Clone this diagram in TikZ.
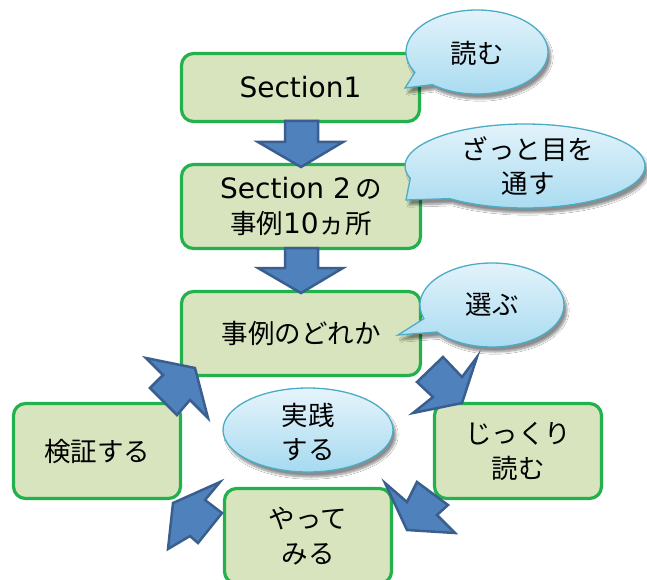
\documentclass[tikz,border=0pt]{standalone}
\usepackage{fontspec}
\setmainfont{Noto Sans CJK JP}
\newfontfamily\latinf{DejaVu Sans}
\usetikzlibrary{shadows.blur}
\definecolor{boxfill}{HTML}{D7E4BD}
\definecolor{boxline}{HTML}{22B14C}
\definecolor{arrfill}{HTML}{4F81BD}
\definecolor{arrline}{HTML}{3A5F8E}
\definecolor{calltop}{HTML}{E6F4FB}
\definecolor{callbot}{HTML}{A6DAF0}
\definecolor{callline}{HTML}{4BACC6}
\newcommand\latx[1]{{\latinf\fontsize{28}{35}\selectfont #1}}
\begin{document}
\begin{tikzpicture}[x=1pt,y=-1pt,
  stepbox/.style={draw=boxline, line width=3.2pt, fill=boxfill, rounded corners=12pt,
    inner sep=0pt, align=center, font=\fontsize{26.5}{35}\selectfont},
  blockarrow/.style={draw=arrline, fill=arrfill, line width=2.5pt},
  bubble/.style={draw=callline, line width=1.3pt, top color=calltop, bottom color=callbot,
    blur shadow={shadow xshift=3pt, shadow yshift=-5pt, shadow blur steps=8, shadow opacity=45}},
  btext/.style={align=center, font=\fontsize{26.5}{34}\selectfont, inner sep=0pt}]
\useasboundingbox (0,0) rectangle (647,580);
\clip (0,0) rectangle (647,580);
\fill[white] (0,0) rectangle (647,580);

% boxes
\node[stepbox, minimum width=238pt, minimum height=68pt] (s1) at (300.5,87.5) {\latx{Section1}};
\node[stepbox, minimum width=239pt, minimum height=84pt] (s2) at (301,206.5) {\latx{Section 2}\,の\\事例\latx{10}ヵ所};
\node[stepbox, minimum width=239pt, minimum height=84pt] (s3) at (301,333.5) {事例のどれか};
\node[stepbox, minimum width=167pt, minimum height=95pt] (s4) at (518,451) {じっくり\\読む};
\node[stepbox, minimum width=167pt, minimum height=95pt] (s5) at (308,536) {やって\\みる};
\node[stepbox, minimum width=167pt, minimum height=95pt] (s6) at (97,451) {検証する};

% straight down arrows
\draw[blockarrow] (285,121) -- (318,121) -- (318,142) -- (343,142) -- (301,167) -- (258,142) -- (285,142) -- cycle;
\draw[blockarrow] (285,248) -- (318,248) -- (318,268) -- (343,268) -- (301,293) -- (258,268) -- (285,268) -- cycle;

% cycle arrows
\draw[blockarrow] (146,358) -- (195,368) -- (208,418) -- (190,400) -- (177,415) -- (150,388) -- (163,375) -- cycle;
\draw[blockarrow] (443,357) -- (462,377) -- (477,357) -- (462,403) -- (413,413) -- (433,397) -- (417,382) -- cycle;
\draw[blockarrow] (385,483) -- (407,530) -- (455,533) -- (437,515) -- (448,505) -- (417,482) -- (407,502) -- cycle;
\draw[blockarrow] (220,482) -- (173,503) -- (168,549) -- (190,536) -- (198,543) -- (222,513) -- (205,500) -- cycle;

% callouts
\coordinate (c1) at (477,52);
\coordinate (t1) at (405,88);
\path[bubble] ([shift={(151:71 and 42)}]c1) -- (t1) -- ([shift={(129:71 and 42)}]c1)
  arc[start angle=129, end angle=-209, x radius=71, y radius=42] -- cycle;
\node[btext] (l1) at (477,53) {読む};

\coordinate (c2) at (525,166);
\coordinate (t2) at (406,200);
\path[bubble] ([shift={(163:120 and 42)}]c2) -- (t2) -- ([shift={(129:120 and 42)}]c2)
  arc[start angle=129, end angle=-197, x radius=120, y radius=42] -- cycle;
\node[btext] (l2) at (528,166) {ざっと目を\\通す};

\coordinate (c3) at (492,305);
\coordinate (t3) at (398,335);
\path[bubble] ([shift={(161:72 and 42)}]c3) -- (t3) -- ([shift={(140:72 and 42)}]c3)
  arc[start angle=140, end angle=-199, x radius=72, y radius=42] -- cycle;
\node[btext] (l3) at (492,305) {選ぶ};

\coordinate (c4) at (308,430);
\path[bubble] (c4) ellipse[x radius=85, y radius=42];
\node[btext] (l4) at (308,432) {実践\\する};
\end{tikzpicture}
\end{document}
